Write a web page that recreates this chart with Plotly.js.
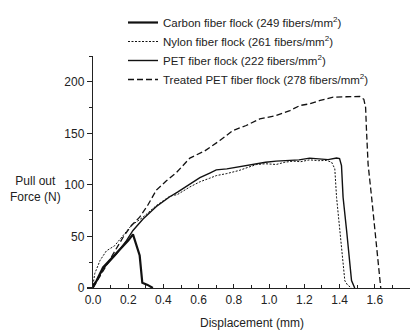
<!DOCTYPE html>
<html><head><meta charset="utf-8">
<script src="https://cdn.plot.ly/plotly-3.0.1.min.js"></script>
<style>html,body{margin:0;padding:0;background:#fff}#c{width:417px;height:333px}</style>
</head><body><div id="c"></div>
<script>
const seriesNames = [
  "Carbon fiber flock (249 fibers/mm<sup>2</sup>)",
  "Nylon fiber flock (261 fibers/mm<sup>2</sup>)",
  "PET fiber flock (222 fibers/mm<sup>2</sup>)",
  "Treated PET fiber flock (278 fibers/mm<sup>2</sup>)"
];
const carbonX = [0, 0.02, 0.057, 0.09, 0.123, 0.17, 0.2, 0.227, 0.265, 0.28, 0.31, 0.34];
const carbonY = [2, 7, 20, 26, 31.5, 41, 46, 52, 31.5, 5, 3, 0];
const nylonX = [0, 0.01, 0.04, 0.076, 0.123, 0.17, 0.218, 0.284, 0.36, 0.436, 0.48, 0.55, 0.607, 0.663, 0.70, 0.76, 0.83, 0.88, 0.93, 0.98, 1.04, 1.09, 1.136, 1.18, 1.23, 1.28, 1.326, 1.355, 1.373, 1.383, 1.40, 1.417, 1.43, 1.445, 1.468];
const nylonY = [3, 14, 26.7, 36, 41, 51, 60.6, 68.7, 80, 89, 90.7, 98, 103, 106.5, 109, 111, 114, 117, 119.8, 120.5, 119.8, 122, 123, 122.5, 124.3, 123.5, 123.7, 122, 115.6, 88, 55.8, 23.5, 7, 3, 0];
const petX = [0, 0.057, 0.133, 0.19, 0.227, 0.284, 0.36, 0.436, 0.48, 0.55, 0.607, 0.663, 0.70, 0.76, 0.83, 0.88, 0.93, 0.98, 1.04, 1.1, 1.17, 1.23, 1.28, 1.335, 1.383, 1.40, 1.411, 1.42, 1.44, 1.458, 1.468, 1.486];
const petY = [0, 18.6, 33, 46, 55.8, 67, 79, 88.5, 93, 101, 107, 111.5, 114.6, 115.5, 117.5, 119.5, 121, 122, 123, 123.5, 124.3, 126, 125, 124.5, 126, 125.5, 118.8, 88, 55.8, 23.5, 7.3, 0];
const treatedX = [0, 0.06, 0.12, 0.17, 0.218, 0.265, 0.31, 0.36, 0.417, 0.474, 0.55, 0.635, 0.72, 0.795, 0.87, 0.947, 1.04, 1.118, 1.175, 1.23, 1.29, 1.364, 1.44, 1.515, 1.538, 1.548, 1.553, 1.562, 1.582, 1.60, 1.616, 1.629, 1.634];
const treatedY = [0, 17, 35, 49, 60.6, 68.7, 80, 95, 104, 112, 126, 133, 143, 152.8, 157.6, 164, 167.3, 172, 177, 178.6, 182, 185, 185.5, 185.7, 183, 175, 152.8, 120, 88, 55.8, 30, 4, 0];

const FONT = "Liberation Sans, Arial, Helvetica, sans-serif";
const traces = [
  {x: carbonX, y: carbonY, name: seriesNames[0], mode: "lines", line: {color: "#111", width: 2.2}},
  {x: nylonX, y: nylonY, name: seriesNames[1], mode: "lines", line: {color: "#111", width: 1, dash: "2px,1.5px"}},
  {x: petX, y: petY, name: seriesNames[2], mode: "lines", line: {color: "#111", width: 1.4}},
  {x: treatedX, y: treatedY, name: seriesNames[3], mode: "lines", line: {color: "#111", width: 1.3, dash: "6px,3px"}}
];
const layout = {
  width: 417, height: 333,
  margin: {l: 93, r: 7, t: 56, b: 45, autoexpand: false},
  paper_bgcolor: "#fff", plot_bgcolor: "#fff",
  font: {family: FONT, size: 12, color: "#222"},
  showlegend: true,
  legend: {xref: "container", yref: "container", x: 123/417, y: 1 - 8/333, xanchor: "left", yanchor: "top",
           bgcolor: "rgba(0,0,0,0)", font: {family: FONT, size: 11.5, color: "#222"}, tracegroupgap: 0},
  xaxis: {range: [0, 1.8], dtick: 0.2, tick0: 0, tickformat: ".1f", showgrid: false, zeroline: false, automargin: false,
          showline: true, linecolor: "#222", linewidth: 1.2, ticks: "inside", ticklen: 4, tickcolor: "#222", tickwidth: 1.2,
          minor: {dtick: 0.1, ticks: "inside", ticklen: 3, tickcolor: "#222", tickwidth: 1},
          tickfont: {size: 12, color: "#222"}, fixedrange: true},
  yaxis: {range: [0, 225], dtick: 50, tick0: 0, showgrid: false, zeroline: false, automargin: false,
          showline: true, linecolor: "#222", linewidth: 1.2, ticks: "outside", ticklen: 5, tickcolor: "#222", tickwidth: 1.2,
          minor: {dtick: 25, ticks: "outside", ticklen: 3, tickcolor: "#222", tickwidth: 1},
          tickfont: {size: 12, color: "#222"}, fixedrange: true},
  annotations: [
    {text: "Pull out<br>Force (N)", xref: "paper", yref: "paper", x: (35-93)/317, y: (288-189)/232,
     xanchor: "center", yanchor: "middle", showarrow: false, font: {size: 12, color: "#222"}},
    {text: "Displacement (mm)", xref: "paper", yref: "paper", x: 0.5, y: (288-323)/232,
     xanchor: "center", yanchor: "middle", showarrow: false, font: {size: 12, color: "#222"}}
  ]
};
Plotly.newPlot("c", traces, layout, {displayModeBar: false, staticPlot: true});
</script></body></html>
